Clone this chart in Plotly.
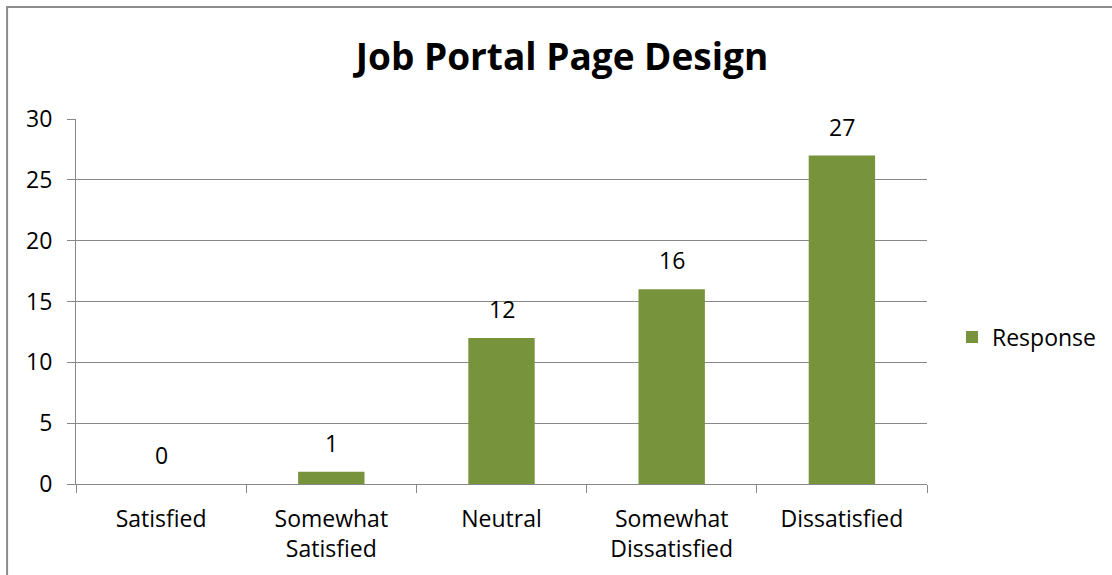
import plotly.graph_objects as go

categories = ["Satisfied", "Somewhat<br>Satisfied", "Neutral", "Somewhat<br>Dissatisfied", "Dissatisfied"]
responses = [0, 1, 12, 16, 27]
series_name = "Response"
title_text = "Job Portal Page Design"
y_ticks = [0, 5, 10, 15, 20, 25, 30]

W, H = 1112, 575
L, R, T, B = 76, 1112 - 928, 119, 575 - 484
pw, ph = W - L - R, H - T - B

def px_x(x):
    return (x - L) / pw

def px_y(y):
    return (H - B - y) / ph

FONT = "'Open Sans', Carlito, Calibri, sans-serif"
GRID = "#888888"
FS = 23

fig = go.Figure()
fig.add_trace(go.Bar(
    x=categories, y=responses, name=series_name,
    marker=dict(color="#77933C", line=dict(width=0)),
    width=0.39, showlegend=True,
))

annotations = [
    dict(x=c, y=v, xref="x", yref="y", text=str(v), showarrow=False,
         yanchor="bottom", yshift=11, font=dict(size=FS, color="#000000", family=FONT))
    for c, v in zip(categories, responses)
]

fig.update_layout(
    width=W, height=H,
    margin=dict(l=L, r=R, t=T, b=B),
    paper_bgcolor="white", plot_bgcolor="white",
    font=dict(family=FONT, size=FS, color="#000000"),
    title=dict(text="<b>" + title_text + "</b>", x=562 / W, xanchor="center",
               y=1 - 57 / H, yanchor="middle",
               font=dict(size=37, family=FONT, color="#000000")),
    showlegend=True,
    legend=dict(x=px_x(952), xanchor="left", y=px_y(337), yanchor="middle",
                font=dict(size=FS, family=FONT), bgcolor="rgba(0,0,0,0)"),
    xaxis=dict(type="category", showline=True, linecolor=GRID, linewidth=1,
               ticks="outside", tickson="boundaries", ticklen=8, tickcolor=GRID,
               showgrid=False, tickfont=dict(size=FS, family=FONT),
               ticklabelstandoff=14),
    yaxis=dict(range=[0, 30], tickvals=y_ticks, showline=True, linecolor=GRID, linewidth=1,
               ticks="outside", ticklen=8, tickcolor=GRID, showgrid=True,
               gridcolor=GRID, gridwidth=1, zeroline=False,
               tickfont=dict(size=FS, family=FONT), ticklabelstandoff=10),
    annotations=annotations,
    shapes=[dict(type="rect", xref="paper", yref="paper",
                 x0=px_x(7), x1=px_x(1130), y0=px_y(600), y1=px_y(7),
                 line=dict(color="#8c8c8c", width=2), fillcolor="rgba(0,0,0,0)", layer="below")],
)

fig.write_html("out.html", config={"displayModeBar": False},
               post_script="document.body.style.margin='0';")
